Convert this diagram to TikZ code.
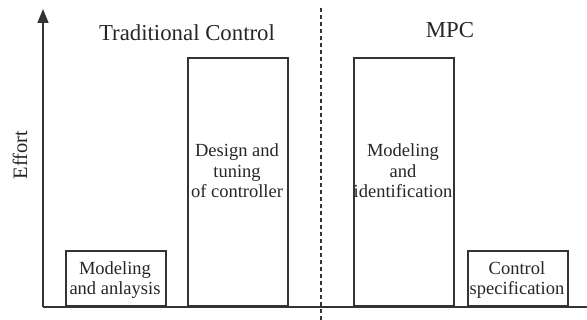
\documentclass[tikz,border=0pt]{standalone}
\usepackage{fontspec}
\setmainfont{Liberation Serif}
\usetikzlibrary{arrows.meta}
\begin{document}
\begin{tikzpicture}[x=1pt,y=-1pt,
  ln/.style={draw=black!80,line width=1.5pt},
  box/.style={ln,rectangle,inner sep=0pt,anchor=south west},
  boxtext/.style={text=black!85,font=\fontsize{18.5}{20.5}\selectfont,align=center,inner sep=0pt},
  title/.style={text=black!85,font=\fontsize{22.8}{24}\selectfont,inner sep=0pt}]
\useasboundingbox (0,0) rectangle (587,320);
% axes
\coordinate (origin) at (43,307);
\coordinate (ytip) at (43,9);
\coordinate (xend) at (587,307);
\draw[ln,-{Triangle[width=11pt,length=14pt]}] (origin) -- (ytip);
\draw[ln] (origin) -- (xend);
% divider
\coordinate (dtop) at (321,8);
\coordinate (dbot) at (321,320);
\draw[ln,line width=1.3pt,dash pattern=on 4.5pt off 2.5pt] (dtop) -- (dbot);
% boxes
\node[box,minimum width=100pt,minimum height=55pt] (b1) at (65,307) {};
\node[box,minimum width=100pt,minimum height=248pt] (b2) at (187,307) {};
\node[box,minimum width=100pt,minimum height=248pt] (b3) at (353,307) {};
\node[box,minimum width=100pt,minimum height=55pt] (b4) at (467,307) {};
% box texts
\node[boxtext] (t1) at (115,280) {Modeling\\and anlaysis};
\node[boxtext] (t2) at (237,171) {Design and\\tuning\\of controller};
\node[boxtext] (t3) at (403,171) {Modeling\\and\\identification};
\node[boxtext] (t4) at (517,280) {Control\\specification};
% titles
\node[title] (tc) at (187,33) {Traditional Control};
\node[title] (mpc) at (450,30) {MPC};
\node[title,font=\fontsize{20.5}{22}\selectfont,rotate=90] (eff) at (20,155) {Effort};
\end{tikzpicture}
\end{document}
